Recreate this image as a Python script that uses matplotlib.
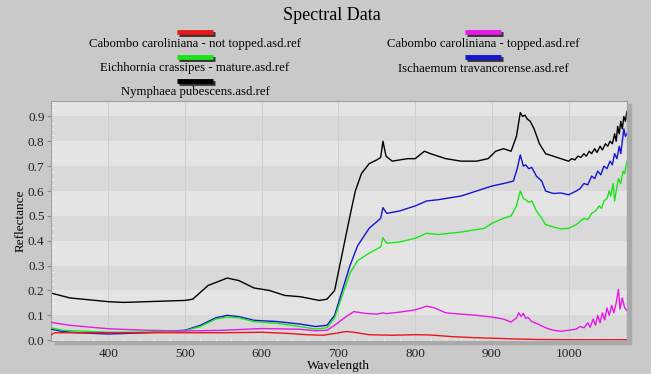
import numpy as np
import matplotlib
matplotlib.use('Agg')
import matplotlib.pyplot as plt
from matplotlib.lines import Line2D

# series labels and colours (order as in the legend)
labels = ['Cabombo caroliniana - not topped.asd.ref',
          'Cabombo caroliniana - topped.asd.ref',
          'Eichhornia crassipes - mature.asd.ref',
          'Ischaemum travancorense.asd.ref',
          'Nymphaea pubescens.asd.ref']
colors = ['#e81818', '#e619e6', '#19e619', '#1414d2', '#000000']

# reflectance, wavelength in nm
red_wl = [325, 330, 360, 400, 450, 500, 550, 600, 630, 660, 680, 695, 710, 720, 740, 770,
          800, 820, 850, 880, 900, 930, 960, 1000, 1040, 1076]
red_r = [0.02, 0.03, 0.03, 0.03, 0.03, 0.03, 0.03, 0.032, 0.028, 0.022, 0.02, 0.027, 0.035,
         0.032, 0.022, 0.02, 0.022, 0.021, 0.014, 0.01, 0.008, 0.005, 0.003, 0.002, 0.002, 0.002]

mag_wl = [325, 350, 400, 450, 500, 550, 600, 650, 670, 685, 695, 710, 720, 735, 750, 758,
          762, 780, 800, 815, 825, 840, 880, 900, 915, 925, 932, 935, 938, 941, 944, 947,
          952, 960, 970, 980, 990, 1000, 1010, 1015, 1020, 1025, 1028, 1032, 1035, 1038,
          1041, 1044, 1047, 1050, 1053, 1056, 1059, 1062, 1065, 1067, 1070, 1073, 1076]
mag_r = [0.072, 0.06, 0.046, 0.04, 0.037, 0.04, 0.047, 0.044, 0.038, 0.04, 0.06, 0.095,
         0.115, 0.108, 0.105, 0.11, 0.107, 0.113, 0.122, 0.137, 0.13, 0.11, 0.1, 0.093,
         0.085, 0.073, 0.09, 0.11, 0.095, 0.108, 0.088, 0.092, 0.075, 0.065, 0.05, 0.04,
         0.036, 0.04, 0.045, 0.055, 0.05, 0.07, 0.052, 0.085, 0.06, 0.1, 0.07, 0.11, 0.082,
         0.13, 0.1, 0.14, 0.11, 0.15, 0.205, 0.125, 0.17, 0.13, 0.12]

grn_wl = [325, 340, 400, 450, 500, 520, 540, 555, 570, 590, 620, 650, 670, 685, 695, 705,
          715, 725, 740, 755, 758, 763, 780, 800, 815, 830, 860, 890, 900, 915, 925, 932,
          937, 941, 944, 948, 952, 958, 965, 970, 980, 990, 1000, 1010, 1020, 1025, 1030,
          1035, 1040, 1043, 1046, 1050, 1053, 1055, 1058, 1060, 1062, 1065, 1068, 1071,
          1073, 1076]
grn_r = [0.05, 0.04, 0.032, 0.033, 0.038, 0.055, 0.085, 0.093, 0.09, 0.075, 0.068, 0.055,
         0.045, 0.05, 0.09, 0.18, 0.27, 0.32, 0.35, 0.375, 0.412, 0.39, 0.395, 0.41, 0.43,
         0.425, 0.435, 0.45, 0.47, 0.49, 0.5, 0.54, 0.6, 0.57, 0.565, 0.555, 0.56, 0.52,
         0.49, 0.465, 0.455, 0.448, 0.45, 0.465, 0.49, 0.485, 0.51, 0.52, 0.54, 0.53, 0.56,
         0.57, 0.6, 0.58, 0.63, 0.56, 0.6, 0.65, 0.63, 0.68, 0.67, 0.72]

blu_wl = [325, 340, 360, 400, 450, 500, 520, 540, 555, 570, 590, 620, 650, 670, 685, 695,
          705, 715, 725, 740, 755, 758, 763, 780, 800, 815, 830, 860, 880, 900, 915, 928,
          933, 937, 941, 944, 948, 952, 958, 965, 970, 980, 990, 1000, 1010, 1015, 1020,
          1025, 1030, 1034, 1038, 1042, 1046, 1050, 1054, 1057, 1060, 1063, 1066, 1068,
          1070, 1072, 1074, 1076]
blu_r = [0.045, 0.035, 0.03, 0.025, 0.03, 0.04, 0.06, 0.09, 0.1, 0.095, 0.08, 0.075,
         0.065, 0.055, 0.06, 0.1, 0.2, 0.3, 0.38, 0.45, 0.49, 0.533, 0.51, 0.52, 0.54, 0.56,
         0.565, 0.58, 0.6, 0.62, 0.63, 0.64, 0.69, 0.745, 0.7, 0.705, 0.69, 0.695, 0.66,
         0.64, 0.6, 0.59, 0.592, 0.585, 0.6, 0.61, 0.63, 0.625, 0.66, 0.65, 0.68, 0.665,
         0.7, 0.69, 0.72, 0.705, 0.75, 0.73, 0.78, 0.75, 0.8, 0.85, 0.82, 0.83]

blk_wl = [325, 350, 400, 420, 500, 510, 530, 555, 570, 590, 610, 630, 650, 675, 685, 695,
          705, 715, 722, 730, 740, 750, 755, 758, 762, 770, 790, 800, 812, 820, 840, 860,
          880, 895, 905, 915, 925, 932, 937, 940, 943, 946, 950, 955, 962, 970, 980, 990,
          1000, 1004, 1008, 1012, 1016, 1020, 1023, 1027, 1030, 1034, 1037, 1041, 1044,
          1048, 1051, 1054, 1057, 1060, 1062, 1064, 1066, 1068, 1070, 1072, 1074, 1076]
blk_r = [0.19, 0.17, 0.155, 0.152, 0.16, 0.165, 0.22, 0.25, 0.24, 0.21, 0.2, 0.18, 0.175,
         0.16, 0.165, 0.2, 0.35, 0.5, 0.6, 0.67, 0.71, 0.725, 0.735, 0.8, 0.74, 0.72, 0.73,
         0.73, 0.76, 0.75, 0.73, 0.72, 0.72, 0.73, 0.76, 0.77, 0.76, 0.82, 0.915, 0.9, 0.905,
         0.89, 0.88, 0.85, 0.79, 0.75, 0.74, 0.73, 0.72, 0.73, 0.725, 0.74, 0.735, 0.75,
         0.74, 0.76, 0.75, 0.77, 0.755, 0.78, 0.765, 0.79, 0.78, 0.8, 0.79, 0.83, 0.8, 0.86,
         0.83, 0.88, 0.85, 0.9, 0.88, 0.92]

series = [(red_wl, red_r), (mag_wl, mag_r), (grn_wl, grn_r), (blu_wl, blu_r), (blk_wl, blk_r)]

xticks = [400, 500, 600, 700, 800, 900, 1000]
yticks = [0.0, 0.1, 0.2, 0.3, 0.4, 0.5, 0.6, 0.7, 0.8, 0.9]

plt.rcParams['font.family'] = ['Liberation Serif', 'DejaVu Serif']

fig = plt.figure(figsize=(6.51, 3.74), dpi=100, facecolor='#c9c9c9')
ax = fig.add_axes([0.078, 0.087, 0.885, 0.643])
ax.set_facecolor('#e4e4e4')
ax.set_xlim(325, 1076)
ax.set_ylim(-0.005, 0.962)

# alternating horizontal bands
for i, y0 in enumerate(yticks):
    if i % 2 == 0:
        ax.axhspan(y0, y0 + 0.1, color='#d9d9d9', lw=0, zorder=0)
for x in xticks:
    ax.axvline(x, color='#cccccc', lw=0.6, zorder=0.5)

order = [4, 3, 2, 1, 0]
for i in order:
    wl, r = series[i]
    ax.plot(wl, r, color=colors[i], lw=1.0, zorder=2 + (4 - i))

ax.set_xticks(xticks)
ax.set_yticks(yticks)
ax.set_yticklabels(['%.1f' % v for v in yticks])
ax.set_xticks(np.arange(340, 1076, 20), minor=True)
ax.set_yticks(np.arange(0, 0.96, 0.025), minor=True)
ax.tick_params(which='major', labelsize=9.5, length=3, color='#888888', colors='#222222',
               pad=1.5)
ax.tick_params(which='minor', direction='in', length=2.5, color='#f4f4f4', width=0.6)
for s in ax.spines.values():
    s.set_color('#a0a0a0')
    s.set_linewidth(0.8)
ax.set_xlabel('Wavelength', fontsize=9.5, labelpad=0)
ax.set_ylabel('Reflectance', fontsize=9.5, labelpad=0.5)

# frame shadow right and bottom
fig.patches.append(plt.Rectangle((0.963, 0.079), 0.007, 0.643, transform=fig.transFigure,
                                 color='#a9a9a9', zorder=0))
fig.patches.append(plt.Rectangle((0.085, 0.079), 0.885, 0.008, transform=fig.transFigure,
                                 color='#a9a9a9', zorder=0))

fig.text(332 / 651, 1 - 15 / 374, 'Spectral Data', ha='center', va='center', fontsize=13)

# legend: swatch above label, two columns
leg_pos = [(195, 32), (483, 32), (195, 57), (483, 57), (195, 81)]
W, H = 651.0, 374.0
for (cx, cy), lab, col in zip(leg_pos, labels, colors):
    x0, x1 = (cx - 18) / W, (cx + 18) / W
    fig.add_artist(Line2D([x0 + 1.5 / W, x1 + 1.5 / W], [1 - (cy + 1.5) / H] * 2,
                          color='#333333', lw=3.5, solid_capstyle='butt'))
    fig.add_artist(Line2D([x0, x1], [1 - cy / H] * 2, color=col, lw=3.5,
                          solid_capstyle='butt'))
    fig.text(cx / W, 1 - (cy + 11.5) / H, lab, ha='center', va='center', fontsize=9.2)

fig.savefig('out.png', dpi=100, facecolor=fig.get_facecolor())
